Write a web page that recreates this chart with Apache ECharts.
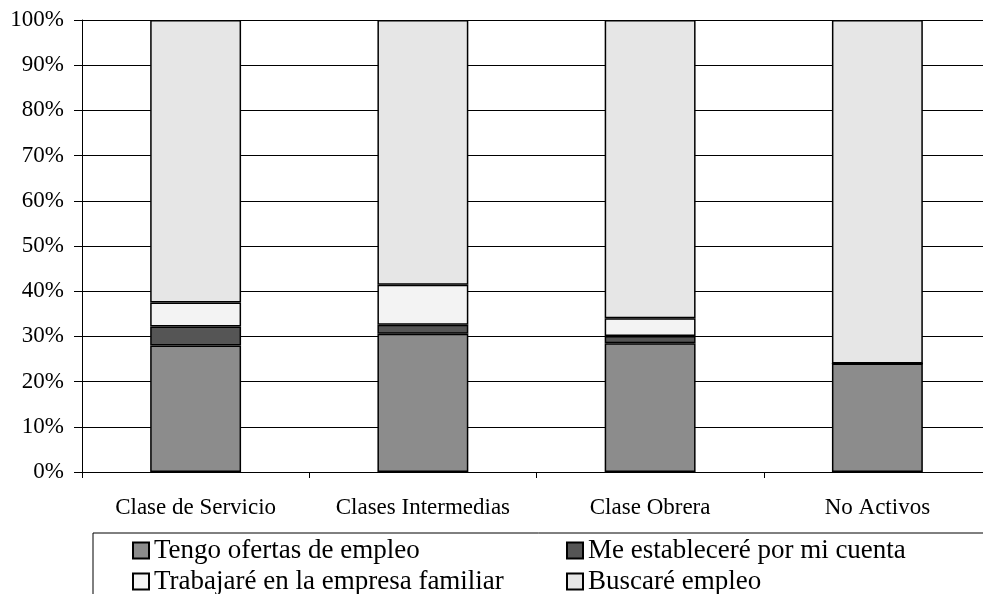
<!DOCTYPE html>
<html lang="es">
<head>
    <meta charset="utf-8">
    <title>Expectativas por clase social</title>
    <script src="https://cdn.jsdelivr.net/npm/echarts@6/dist/echarts.min.js"></script>
    <style>
        html, body { margin: 0; padding: 0; background: #fff; }
        #main { width: 983px; height: 594px; }
    </style>
</head>
<body>
<div id="main"></div>

<script type="text/javascript">

    // datos (%)
    var categories = ['Clase de Servicio', 'Clases Intermedias', 'Clase Obrera', 'No Activos'];
    var tengoOfertas = [28.0, 30.6, 28.5, 24.0];
    var meEstablecere = [4.2, 2.0, 1.6, 0];
    var trabajareFamiliar = [5.3, 8.8, 3.9, 0];
    var buscareEmpleo = [62.5, 58.6, 66.0, 76.0];
    var yTicks = [0, 10, 20, 30, 40, 50, 60, 70, 80, 90, 100];

    var serif = '"Liberation Serif", "DejaVu Serif", serif';

    var myChart = echarts.init(document.getElementById('main'));

    function barSerie(name, data, color) {
        return {
            name: name,
            type: 'bar',
            stack: 'total',
            barWidth: '40%',
            data: data,
            itemStyle: { color: color, borderColor: '#000', borderWidth: 1.5 },
            emphasis: { disabled: true }
        };
    }

    // una leyenda por elemento para fijar las dos columnas
    function legendItem(name, left, top) {
        return {
            data: [name],
            left: left, top: top,
            padding: 0,
            itemWidth: 16, itemHeight: 16,
            icon: 'rect',
            selectedMode: false,
            textStyle: { fontFamily: serif, fontSize: 27, color: '#000' }
        };
    }

    myChart.setOption({
        animation: false,
        grid: { left: 82, right: -8, top: 20, bottom: 122, outerBoundsMode: 'none' },
        legend: [
            legendItem('Tengo ofertas de empleo', 132, 537),
            legendItem('Trabajaré en la empresa familiar', 132, 568),
            legendItem('Me estableceré por mi cuenta', 566, 537),
            legendItem('Buscaré empleo', 566, 568)
        ],
        graphic: [{
            type: 'rect',
            shape: { x: 93, y: 533, width: 900, height: 80 },
            style: { fill: 'none', stroke: '#000', lineWidth: 1 },
            silent: true
        }],
        xAxis: {
            type: 'category',
            data: categories,
            axisLine: { lineStyle: { color: '#000', width: 1 } },
            axisTick: { show: true, length: 6, lineStyle: { color: '#000' } },
            axisLabel: { fontFamily: serif, fontSize: 23, color: '#000', margin: 24 }
        },
        yAxis: {
            type: 'value',
            min: yTicks[0],
            max: yTicks[yTicks.length - 1],
            interval: 10,
            axisLine: { show: true, lineStyle: { color: '#000', width: 1 } },
            axisTick: { show: true, length: 8, lineStyle: { color: '#000' } },
            splitLine: { lineStyle: { color: '#000', width: 1 } },
            axisLabel: {
                fontFamily: serif, fontSize: 23, color: '#000', margin: 18,
                formatter: function (v) { return v + '%'; }
            }
        },
        series: [
            barSerie('Tengo ofertas de empleo', tengoOfertas, '#8c8c8c'),
            barSerie('Me estableceré por mi cuenta', meEstablecere, '#555555'),
            barSerie('Trabajaré en la empresa familiar', trabajareFamiliar, '#f3f3f3'),
            barSerie('Buscaré empleo', buscareEmpleo, '#e6e6e6')
        ]
    });

</script>
</body>
</html>
